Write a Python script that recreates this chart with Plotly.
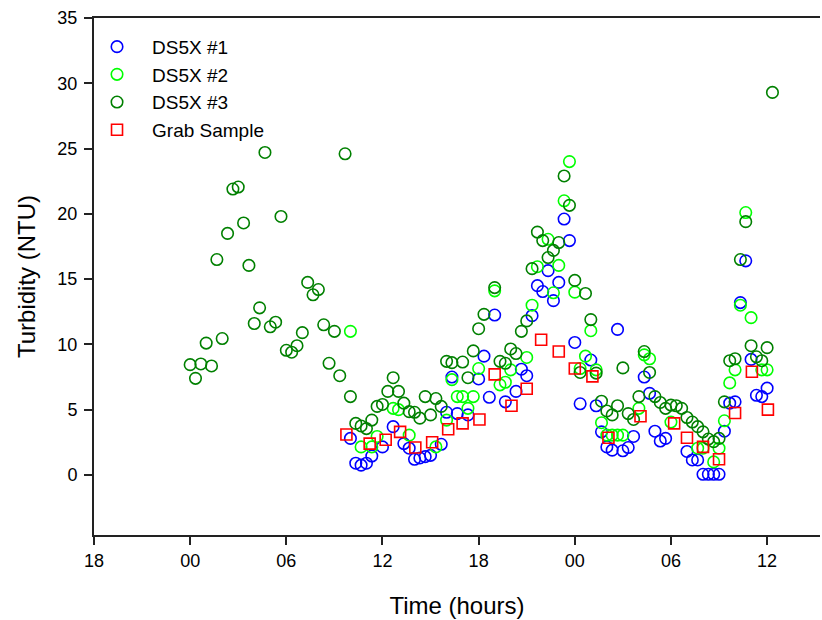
import plotly.graph_objects as go

# Time axis: hours counted from 18:00 on the first day; samples every 20 minutes
start_dg = 6.0          # DS5X #3 first sample (00:00)
start_12 = 16.0         # DS5X #1 / #2 first sample
step = 1.0 / 3.0

ds3 = [8.45, 7.4, 8.5, 10.1, 8.35, 16.5, 10.45, 18.5, 21.9, 22.05,
       19.3, 16.05, 11.6, 12.8, 24.7, 11.35, 11.7, 19.8, 9.55, 9.4,
       9.9, 10.9, 14.75, 13.8, 14.2, 11.5, 8.55, 11.0, 7.6, 24.6,
       6.0, 3.95, 3.75, 3.55, 4.2, 5.25, 5.4, 6.4, 7.45, 6.4,
       5.5, 4.85, 4.8, 4.35, 6.0, 4.6, 5.85, 5.25, 8.7, 8.6,
       None, 8.65, 7.45, 9.5, 11.2, 12.3, None, 14.35, 8.7, 8.55,
       9.65, 9.3, 11.0, 11.8, 15.8, 18.6, 17.95, 16.65, 17.2, 17.8,
       22.9, 20.65, 14.9, 7.85, 13.9, 11.9, 7.8, 5.65, 4.9, 4.6,
       5.3, 8.2, 4.7, 4.25, 6.0, 9.45, 7.85, 6.0, 5.55, 5.1,
       5.35, 5.3, 5.1, 4.4, 4.05, 3.7, 3.3, 2.75, 2.55, 2.8,
       5.6, 8.75, 8.9, 16.5, 19.4, 9.9, 9.05, 8.75, 9.75, 29.3]

ds1 = [2.8, 0.9, 0.75, 0.9, 1.45, None, 2.15, None, 3.7, None,
       2.4, 2.05, 1.2, 1.3, 1.4, 1.5, None, 2.35, 4.8, 7.5,
       4.7, None, 4.6, None, 7.35, 9.1, 5.95, 12.25, None, 5.6,
       None, 6.4, 8.1, 7.6, 12.2, 14.5, 14.05, 15.65, 13.35, 14.75,
       19.6, 17.95, 10.15, 5.45, None, 8.8, 5.3, 3.3, 2.15, 1.9,
       11.15, 1.85, 2.1, 2.95, None, 7.5, 6.25, 3.35, 2.6, 2.8,
       None, None, None, 1.8, 1.15, 1.15, 0.05, 0.05, 0.05, 0.05,
       3.35, 5.5, 5.6, 13.2, 16.4, 8.85, 6.1, 6.0, 6.65]

ds2 = [11.0, None, 2.15, None, 2.15, 2.95, None, None, 5.1, 5.0,
       None, 3.05, None, None, None, None, 2.15, None, 4.2, 7.3,
       6.0, 6.0, 5.1, 6.0, 8.15, None, None, 14.1, 6.9, 7.1,
       8.05, None, None, 9.0, 13.0, 15.95, None, 18.05, 13.95, 16.05,
       21.0, 24.0, 14.0, 8.15, 9.1, 11.05, 8.05, 4.0, 3.05, 3.05,
       3.05, 3.05, None, None, 5.1, 9.2, 8.9, None, None, None,
       4.05, None, None, None, None, 2.05, 2.05, None, 1.0, 2.05,
       4.15, 7.05, 8.05, 13.0, 20.1, 12.05, None, 8.05, 8.05]

grab_t = [15.75, 17.2, 18.2, 19.1, 20.05, 21.1, 22.1, 23.0, 24.05, 25.0,
          26.05, 27.0, 27.9, 29.0, 30.0, 31.1, 32.1, 34.1, 36.2, 37.0,
          38.0, 39.0, 40.0, 41.05, 42.05]
grab = [3.1, 2.4, 2.7, 3.3, 2.1, 2.5, 3.5, 3.95, 4.25, 7.7,
        5.3, 6.6, 10.35, 9.45, 8.15, 7.55, 2.85, 4.5, 3.95, 2.85,
        2.15, 1.2, 4.75, 7.9, 5.0]

tick_hours = [0, 6, 12, 18, 24, 30, 36, 42]
tick_text = ["18", "00", "06", "12", "18", "00", "06", "12"]

t3 = [start_dg + i * step for i in range(len(ds3))]
t1 = [start_12 + i * step for i in range(len(ds1))]
t2 = [start_12 + i * step for i in range(len(ds2))]

FONT = "Liberation Sans, Arial, sans-serif"
circ = dict(symbol="circle-open", size=11.5, line=dict(width=1.6))

fig = go.Figure()
fig.add_trace(go.Scatter(x=t1, y=ds1, mode="markers", name="DS5X #1",
                         marker=dict(circ, color="#0000FF")))
fig.add_trace(go.Scatter(x=t2, y=ds2, mode="markers", name="DS5X #2",
                         marker=dict(circ, color="#00FF00")))
fig.add_trace(go.Scatter(x=t3, y=ds3, mode="markers", name="DS5X #3",
                         marker=dict(circ, color="#008000")))
fig.add_trace(go.Scatter(x=grab_t, y=grab, mode="markers", name="Grab Sample",
                         marker=dict(symbol="square-open", size=11, color="#FF0000",
                                     line=dict(width=1.6))))

fig.update_layout(
    width=822, height=620,
    margin=dict(l=94, r=2, t=18, b=85),
    paper_bgcolor="white", plot_bgcolor="white",
    font=dict(family=FONT, size=18, color="black"),
    showlegend=True,
    legend=dict(x=-0.0165, y=0.981, xanchor="left", yanchor="top",
                bgcolor="rgba(0,0,0,0)", font=dict(size=19),
                itemwidth=60, tracegroupgap=0),
    xaxis=dict(range=[0, 45.3], tickvals=tick_hours, ticktext=tick_text,
               showgrid=False, zeroline=False, showline=True, mirror=True,
               linecolor="#222", linewidth=2, ticks="outside", ticklen=8,
               tickwidth=1.5, tickcolor="#222", tickfont=dict(size=18),
               title=dict(text="Time (hours)", font=dict(size=24), standoff=28)),
    yaxis=dict(range=[-4.6, 35], tickvals=[0, 5, 10, 15, 20, 25, 30, 35],
               showgrid=False, zeroline=False, showline=True,
               linecolor="#222", linewidth=2, ticks="outside", ticklen=8,
               tickwidth=1.5, tickcolor="#222", tickfont=dict(size=18),
               ticklabelstandoff=3,
               title=dict(text="Turbidity (NTU)", font=dict(size=24), standoff=15)),
)

fig.write_html("out.html")
